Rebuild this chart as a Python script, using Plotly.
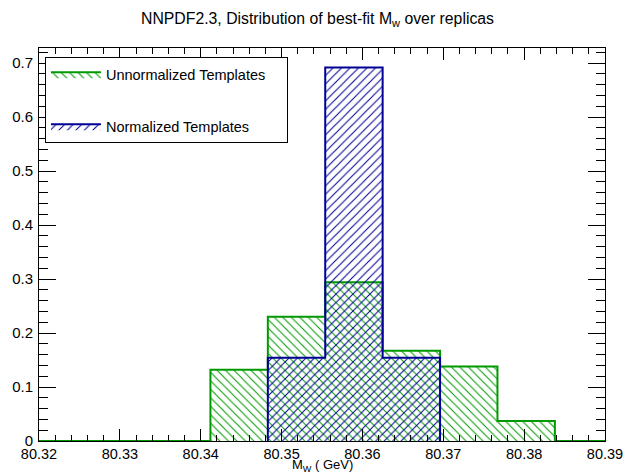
import plotly.graph_objects as go

# Data
bin_edges = [80.3412, 80.3483, 80.3554, 80.3625, 80.3696, 80.3767, 80.3838]
unnorm_vals = [0.132, 0.230, 0.294, 0.167, 0.138, 0.037]
norm_edges = [80.3483, 80.3554, 80.3625, 80.3696]
norm_vals = [0.154, 0.692, 0.154]
x_range = [80.32, 80.39]
y_range = [0, 0.728]
x_ticks = [80.32, 80.33, 80.34, 80.35, 80.36, 80.37, 80.38, 80.39]
y_ticks = [0, 0.1, 0.2, 0.3, 0.4, 0.5, 0.6, 0.7]
series_names = ["Unnormalized Templates", "Normalized Templates"]

GREEN = "#009a00"
BLUE = "#000096"


def step(edges, vals, lo=None, hi=None):
    xs, ys = [], []
    if lo is not None:
        xs.append(lo); ys.append(0)
    xs.append(edges[0]); ys.append(0)
    for e, v in zip(edges[:-1], vals):
        xs.append(e); ys.append(v)
    xs.append(edges[-1]); ys.append(0)
    if hi is not None:
        xs.append(hi); ys.append(0)
    return xs, ys


PAD = "&nbsp;" * 4

fig = go.Figure()

gx, gy = step(bin_edges, unnorm_vals, x_range[0], x_range[1])
fig.add_trace(go.Scatter(
    x=gx, y=gy, mode="lines", name=series_names[0] + PAD,
    line=dict(color=GREEN, width=2, shape="hv"),
    fill="tozeroy", fillcolor="rgba(0,0,0,0)",
    fillpattern=dict(shape="\\", size=6, solidity=0.17, fgcolor=GREEN,
                     bgcolor="rgba(0,0,0,0)", fillmode="replace"),
    legendgroup="a", hoverinfo="skip"))
bx, by = step(norm_edges, norm_vals)
fig.add_trace(go.Scatter(
    x=bx, y=by, mode="lines", name=series_names[1],
    line=dict(color=BLUE, width=2, shape="hv"),
    fill="tozeroy", fillcolor="rgba(0,0,0,0)",
    fillpattern=dict(shape="/", size=6, solidity=0.17, fgcolor=BLUE,
                     bgcolor="rgba(0,0,0,0)", fillmode="replace"),
    legendgroup="b", hoverinfo="skip"))

fig.update_layout(
    width=635, height=476,
    margin=dict(l=36, r=28, t=48, b=35),
    paper_bgcolor="white", plot_bgcolor="white",
    font=dict(family="Liberation Sans, Arial, sans-serif", size=15, color="black"),
    title=dict(text="NNPDF2.3, Distribution of best-fit M<sub>w</sub> over replicas",
               x=0.5, xanchor="center", y=0.962, yanchor="middle",
               font=dict(size=15.8, color="black")),
    legend=dict(x=0.0105, y=0.976, xanchor="left", yanchor="top",
                bgcolor="white", bordercolor="black", borderwidth=1,
                font=dict(size=14.5), tracegroupgap=30, itemwidth=50),
    xaxis=dict(range=x_range, tickvals=x_ticks, ticktext=[f"{v:.2f}" for v in x_ticks],
               ticks="inside", ticklen=12, tickcolor="black", showline=True,
               linecolor="black", linewidth=1, mirror="allticks", showgrid=False,
               zeroline=False, ticklabelstandoff=0, tickfont=dict(size=14.5),
               minor=dict(ticks="inside", ticklen=6, dtick=0.002, tick0=80.32,
                          tickcolor="black", showgrid=False)),
    yaxis=dict(range=y_range, tickvals=y_ticks, ticktext=["0", "0.1", "0.2", "0.3", "0.4", "0.5", "0.6", "0.7"],
               ticks="inside", ticklen=17, tickcolor="black", showline=True,
               linecolor="black", linewidth=1, mirror="allticks", showgrid=False,
               zeroline=False, ticklabelstandoff=2, tickfont=dict(size=15),
               minor=dict(ticks="inside", ticklen=9, dtick=0.02, tick0=0,
                          tickcolor="black", showgrid=False)),
)

fig.add_annotation(text="M<sub>W</sub> ( GeV)", xref="paper", yref="paper",
                   x=0.5, y=-0.0885, xanchor="center", yanchor="bottom",
                   showarrow=False, font=dict(size=13, color="black"))

fig.write_html("out.html", config={"displayModeBar": False},
               post_script="document.body.style.margin='0';document.body.style.overflow='hidden';")
